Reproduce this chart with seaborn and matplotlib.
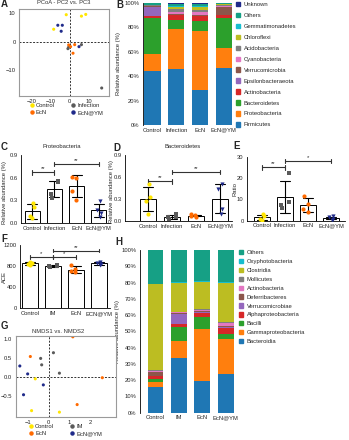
import numpy as np
import pandas as pd
import matplotlib
matplotlib.use("Agg")
import matplotlib.pyplot as plt
import seaborn as sns
from matplotlib.lines import Line2D
from matplotlib.patches import Patch

# ---------------- data ----------------
groups = ["Control", "Infection", "EcN", "EcN@YM"]
group_colors = ["#FFE600", "#5A5A5A", "#FF6A00", "#1F2A8A"]
group_markers = ["o", "s", "o", "v"]

# A: PCoA PC2 vs PC3
pcoa_group = ["Control"] * 4 + ["Infection"] * 4 + ["EcN"] * 4 + ["EcN@YM"] * 4
pcoa_x = [-1.8, 6.3, 8.6, -8.5, -0.5, 6.3, 17.1, -0.9, -0.5, 0.5, 2.7, 1.8, -6.3, -3.9, -4.5, 5.0]
pcoa_y = [9.5, 9.0, 9.6, 4.4, -1.9, -1.0, -16.2, -2.4, -1.1, -1.7, -1.0, -4.0, 5.8, 5.8, 3.7, -1.7]

# B: phylum composition (%)
phyla = ["Unknown", "Others", "Gemmatimonadetes", "Chloroflexi", "Acidobacteria",
         "Cyanobacteria", "Verrucomicrobia", "Epsilonbacteraeota", "Actinobacteria",
         "Bacteroidetes", "Proteobacteria", "Firmicutes"]
phyla_colors = ["#1F2A8A", "#16A085", "#17BECF", "#BCBD22", "#7F7F7F", "#E377C2",
                "#8C564B", "#9467BD", "#D62728", "#2CA02C", "#FF7F0E", "#1F77B4"]
phyla_control = [0.3, 1.0, 0.3, 0.3, 0.3, 0.3, 0.5, 7.5, 1.5, 30, 14, 44]
phyla_infection = [0.5, 2.0, 1.0, 1.5, 2.0, 2.0, 0.5, 0.5, 4.0, 7, 33, 46]
phyla_ecn = [0.5, 2.0, 0.5, 2.5, 2.0, 2.0, 1.0, 0.5, 4.0, 8, 48, 29]
phyla_ecnym = [0.1, 0.5, 0.3, 1.0, 0.3, 1.0, 6.5, 0.3, 2.0, 25, 16, 47]

# C: Proteobacteria
proteo = {"Control": [0.27, 0.21, 0.09, 0.06], "Infection": [0.55, 0.54, 0.38, 0.33],
          "EcN": [0.61, 0.60, 0.42, 0.31], "EcN@YM": [0.29, 0.17, 0.13, 0.08]}
proteo_sig = [(0, 1, 0.67, "**"), (1, 3, 0.78, "**")]
# D: Bacteroidetes
bactero = {"Control": [0.50, 0.33, 0.27, 0.10], "Infection": [0.09, 0.06, 0.05, 0.03],
           "EcN": [0.09, 0.08, 0.07, 0.06], "EcN@YM": [0.50, 0.44, 0.17, 0.10]}
bactero_sig = [(0, 1, 0.54, "**"), (1, 3, 0.67, "**")]
# E: ratio
ratio = {"Control": [3.0, 2.0, 0.8, 0.4], "Infection": [22.3, 8.6, 7.4, 5.8],
         "EcN": [11.5, 8.0, 5.5, 4.0], "EcN@YM": [2.0, 1.5, 1.0, 0.5]}
ratio_sig = [(0, 1, 25, "**"), (1, 3, 28, "*")]
# F: ACE
ace_groups = ["Control", "IM", "EcN", "ECN@YM"]
ace = {"Control": [880, 860, 840, 830], "IM": [820, 810, 800, 790],
       "EcN": [820, 740, 700, 680], "ECN@YM": [880, 860, 840, 820]}
ace_sig = [(0, 1, 970, "*"), (1, 2, 970, "*"), (1, 3, 1095, "**")]

# G: NMDS
nmds_groups = ["Control", "IM", "EcN", "EcN@YM"]
nmds_group = ["Control"] * 3 + ["IM"] * 4 + ["EcN"] * 4 + ["EcN@YM"] * 4
nmds_x = [-0.65, -0.83, 0.52, -0.39, -0.34, 0.23, 0.52, 1.17, -0.89, 2.6, 1.38, -1.4, -1.02, -0.26, -1.22]
nmds_y = [-0.06, -0.9, -0.94, 0.48, 0.31, 0.63, 0.09, 1.05, 0.53, -0.03, -0.74, 0.28, 0.07, -0.22, -0.48]

# H: class composition (%)
h_groups = ["Control", "IM", "EcN", "EcN@YM"]
classes = ["Others", "Oxyphotobacteria", "Clostridia", "Mollicutes", "Actinobacteria",
           "Deferribacteres", "Verrucomicrobiae", "Alphaproteobacteria", "Bacilli",
           "Gammaproteobacteria", "Bacteroidia"]
class_colors = ["#16A085", "#17BECF", "#BCBD22", "#7F7F7F", "#E377C2", "#8C564B",
                "#9467BD", "#D62728", "#2CA02C", "#FF7F0E", "#1F77B4"]
class_control = [20.7, 0.3, 53, 0.3, 0.5, 2.4, 0.3, 1.8, 1.7, 3.4, 15.6]
class_im = [19.8, 0.2, 18, 0.3, 0.5, 0.5, 6.2, 2.0, 8.2, 10.5, 33.8]
class_ecn = [19.3, 0.2, 16.7, 0.4, 1.0, 0.5, 0.8, 2.5, 7.3, 31.8, 19.5]
class_ecnym = [19.7, 0.8, 24, 0.5, 1.8, 0.5, 0.8, 3.5, 3.1, 21.5, 23.8]

# ---------------- style ----------------
sns.set_theme(style="white")
plt.rcParams["font.family"] = ["Liberation Sans", "DejaVu Sans"]
FS = 4.2
plt.rcParams.update({
    "axes.linewidth": 0.6, "xtick.labelsize": FS, "ytick.labelsize": FS,
    "axes.labelsize": FS, "xtick.major.size": 1.5, "ytick.major.size": 1.5,
    "xtick.major.width": 0.5, "ytick.major.width": 0.5,
    "xtick.major.pad": 1, "ytick.major.pad": 1, "axes.edgecolor": "black",
})

W, H = 349, 440
fig = plt.figure(figsize=(W / 100, H / 100), dpi=100)


def rect(l, t, r, b):
    return [l / W, 1 - b / H, (r - l) / W, (b - t) / H]


def ftext(x, y, s, **kw):
    fig.text(x / W, 1 - y / H, s, **kw)


def letter(x, y, s):
    ftext(x, y, s, fontsize=7, fontweight="bold", ha="left", va="center")


def scatter_panel(ax, df, order, xlim, ylim, xticks, yticks, yfmt):
    sns.scatterplot(data=df, x="x", y="y", hue="g", hue_order=order,
                    palette=group_colors, s=5, linewidth=0, legend=False, ax=ax)
    ax.axhline(0, color="#333333", ls=(0, (2, 1.5)), lw=0.7, zorder=0)
    ax.axvline(0, color="#333333", ls=(0, (2, 1.5)), lw=0.7, zorder=0)
    ax.set_xlim(*xlim)
    ax.set_ylim(*ylim)
    ax.set_xticks(xticks)
    ax.set_yticks(yticks)
    ax.set_yticklabels([yfmt(v) for v in yticks])
    ax.set_xticklabels([str(v).replace("-", "\u2212") for v in xticks])
    ax.set_xlabel("")
    ax.set_ylabel("")
    for s in ax.spines.values():
        s.set_color("#9A9A9A")
        s.set_linewidth(0.8)
    ax.tick_params(axis="both", length=1.5, color="#555555", pad=1)


def scatter_legend(x, y, labels):
    handles = [Line2D([], [], marker="o", ls="", color=c, markersize=2.2) for c in group_colors]
    order = [0, 2, 1, 3]
    fig.legend([handles[i] for i in order], [labels[i] for i in order], ncol=2,
               loc="upper left", bbox_to_anchor=(x / W, 1 - y / H), frameon=False,
               fontsize=FS, columnspacing=2.6, handletextpad=0.2, labelspacing=0.35,
               handlelength=1.0, borderpad=0, borderaxespad=0)


# ---------------- A ----------------
axA = fig.add_axes(rect(19, 9, 109, 96))
dfA = pd.DataFrame({"x": pcoa_x, "y": pcoa_y, "g": pcoa_group})
scatter_panel(axA, dfA, groups, (-27, 21), (-19, 11.5), [-20, -10, 0, 10], [-10, 0, 10],
              lambda v: str(v).replace("-", "\u2212"))
ftext(64, 3, "PCoA - PC2 vs. PC3", fontsize=FS, ha="center", va="center", color="#333333")
scatter_legend(29, 103, groups)
letter(1, 4, "A")


# ---------------- stacked bars ----------------
def stacked_panel(ax, cats, taxa, colors, values, xlim):
    df = pd.DataFrame(values, index=cats, columns=taxa)
    bottom_first = taxa[::-1]
    cum = df[bottom_first].cumsum(axis=1)
    for t in taxa:  # top-most cumulative first, lower layers drawn over it
        sns.barplot(x=cats, y=cum[t].values, order=cats, color=colors[taxa.index(t)],
                    saturation=1, width=0.68, linewidth=0, ax=ax)
    ax.set_xlim(*xlim)
    ax.set_ylim(0, 100)
    ax.set_yticks(np.arange(0, 101, 10 if len(taxa) == 11 else 20))
    ax.set_yticklabels([f"{v}%" for v in ax.get_yticks().astype(int)])
    for s in ["top", "right", "bottom"]:
        ax.spines[s].set_visible(False)
    ax.tick_params(axis="x", length=0, pad=2)
    ax.tick_params(axis="y", length=1.5, pad=1)
    ax.set_ylabel("Relative abundance (%)", fontsize=FS)


axB = fig.add_axes(rect(143, 3, 232, 125))
stacked_panel(axB, groups, phyla, phyla_colors,
              [phyla_control, phyla_infection, phyla_ecn, phyla_ecnym], (-0.4, 3.35))
axB.yaxis.set_label_coords(-0.25, 0.5)
axB.legend([Patch(color=c) for c in phyla_colors], phyla, loc="upper left",
           bbox_to_anchor=(235.5 / W, 1 - 2 / H), bbox_transform=fig.transFigure,
           frameon=False, fontsize=FS, handlelength=0.8, handleheight=0.8,
           handletextpad=0.6, labelspacing=0.97, borderpad=0, borderaxespad=0)
letter(116, 5, "B")

axH = fig.add_axes(rect(140, 250, 236, 412.7))
stacked_panel(axH, h_groups, classes, class_colors,
              [class_control, class_im, class_ecn, class_ecnym], (-0.66, 3.43))
axH.yaxis.set_label_coords(-0.21, 0.5)
axH.legend([Patch(color=c) for c in class_colors], classes, loc="upper left",
           bbox_to_anchor=(238.5 / W, 1 - 250 / H), bbox_transform=fig.transFigure,
           frameon=False, fontsize=FS, handlelength=0.8, handleheight=0.8,
           handletextpad=0.6, labelspacing=0.62, borderpad=0, borderaxespad=0)
letter(115, 242, "H")


# ---------------- bar + points panels ----------------
def dot_bar_panel(ax, data, order, ylim, yticks, ylab, xlim, sig, sig_h, yfmt):
    df = pd.DataFrame([(g, v) for g in order for v in data[g]], columns=["g", "v"])
    sns.barplot(data=df, x="g", y="v", order=order, errorbar="sd", fill=False,
                color="black", width=0.68, linewidth=0.7, capsize=0.45,
                err_kws={"color": "black", "linewidth": 0.8}, ax=ax)
    np.random.seed(3)
    for g, c, m in zip(order, group_colors, group_markers):
        sns.stripplot(data=df[df.g == g], x="g", y="v", order=order, color=c,
                      marker=m, size=3.0, jitter=0.22, linewidth=0, ax=ax, zorder=3)
    ax.set_xlim(*xlim)
    ax.set_ylim(*ylim)
    ax.set_yticks(yticks)
    ax.set_yticklabels([yfmt(v) for v in yticks])
    ax.set_xlabel("")
    ax.set_ylabel(ylab, fontsize=FS)
    for s in ["top", "right"]:
        ax.spines[s].set_visible(False)
    ax.tick_params(axis="x", length=0, pad=2)
    ax.tick_params(axis="y", length=1.5, pad=1)
    for x1, x2, y, txt in sig:
        ax.plot([x1, x2], [y, y], color="#333333", lw=0.8, clip_on=False)
        ax.plot([x1, x1], [y - sig_h, y + sig_h], color="#333333", lw=0.8, clip_on=False)
        ax.plot([x2, x2], [y - sig_h, y + sig_h], color="#333333", lw=0.8, clip_on=False)
        ax.text((x1 + x2) / 2, y + sig_h * 0.4, txt, ha="center", va="bottom",
                fontsize=FS, clip_on=False)


axC = fig.add_axes(rect(21, 155, 110, 223))
dot_bar_panel(axC, proteo, groups, (0, 0.9), [0.0, 0.3, 0.6, 0.9],
              "Relative abundance (%)", (-0.5, 3.5), proteo_sig, 0.03, lambda v: f"{v:.1f}")
axC.yaxis.set_label_coords(-0.16, 0.45)
ftext(62, 147, "Proteobacteria", fontsize=FS, ha="center", va="center")
letter(1, 147, "C")

axD = fig.add_axes(rect(125, 155, 232, 221))
dot_bar_panel(axD, bactero, groups, (0, 0.9), [0.0, 0.3, 0.6, 0.9],
              "Relative abundance (%)", (-0.96, 3.5), bactero_sig, 0.03, lambda v: f"{v:.1f}")
axD.yaxis.set_label_coords(-0.1, 0.45)
ftext(183, 147, "Bacteroidetes", fontsize=FS, ha="center", va="center")
letter(113, 148, "D")

axE = fig.add_axes(rect(247, 156.7, 345, 220.7))
dot_bar_panel(axE, ratio, groups, (0, 30), [0, 10, 20, 30], "Ratio",
              (-0.65, 3.6), ratio_sig, 1.0, lambda v: f"{v}")
axE.yaxis.set_label_coords(-0.1, 0.5)
letter(233, 146, "E")

axF = fig.add_axes(rect(20, 245, 110, 308.4))
dot_bar_panel(axF, ace, ace_groups, (0, 1200), [0, 400, 800, 1200], "ACE",
              (-0.43, 3.48), ace_sig, 35, lambda v: f"{v}")
axF.yaxis.set_label_coords(-0.15, 0.5)
letter(1, 239, "F")

# ---------------- G ----------------
axG = fig.add_axes(rect(15.7, 335.7, 115.7, 416.7))
dfG = pd.DataFrame({"x": nmds_x, "y": nmds_y, "g": nmds_group})
scatter_panel(axG, dfG, nmds_groups, (-1.6, 3.25), (-1.06, 1.08), [-1, 0, 1, 2],
              [-0.5, 0.0, 0.5, 1.0], lambda v: f"{v:.1f}".replace("-", "\u2212"))
ftext(58, 331, "NMDS1 vs. NMDS2", fontsize=FS, ha="center", va="center", color="#333333")
scatter_legend(28, 424, nmds_groups)
letter(1, 326, "G")

fig.savefig("out.png", dpi=100)
